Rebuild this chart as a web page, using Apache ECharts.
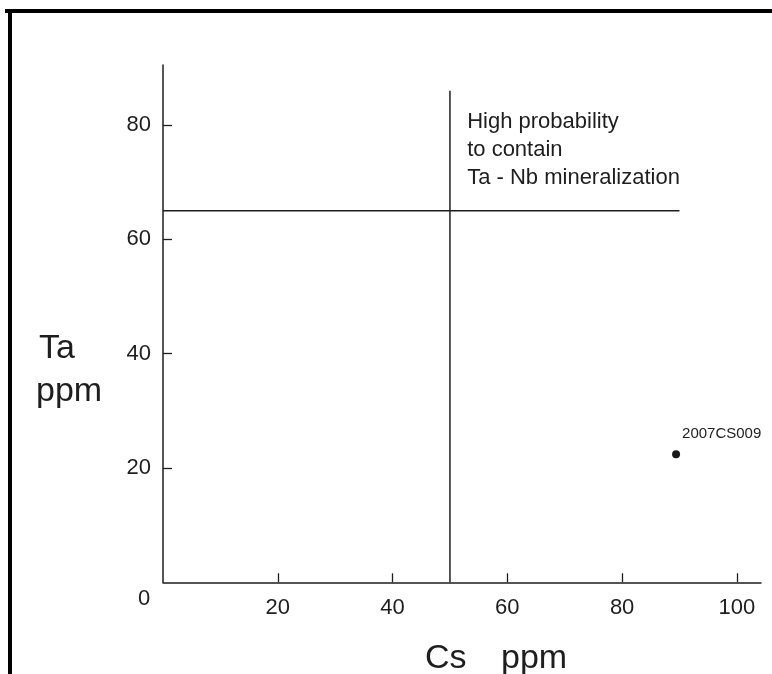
<!DOCTYPE html>
<html>
<head>
<meta charset="utf-8">
<script src="https://cdn.jsdelivr.net/npm/echarts@6/dist/echarts.min.js"></script>
<style>
html, body { margin: 0; padding: 0; background: #fff; }
#main { width: 772px; height: 674px; }
</style>
</head>
<body>
<div id="main"></div>
<script>
// tick values
const xTicks = [20, 40, 60, 80, 100];
const yTicks = [20, 40, 60, 80];
// sample
const samplePoints = [[89.4, 22.4]];
const sampleNames = ['2007CS009'];
// threshold lines (Ta = 65, Cs = 50)
const hLine = [[0, 65], [90, 65]];
const vLine = [[50, 0], [50, 86]];
// note in the upper right field
const noteLines = ['High probability', 'to contain', 'Ta - Nb mineralization'];
const notePos = [53, 82.8];

const FONT = "'Liberation Sans', Arial, sans-serif";
const INK = '#1e1e1e';

const chartDom = document.getElementById('main');
const myChart = echarts.init(chartDom, null, { renderer: 'canvas' });

const axisCommon = {
    type: 'value',
    min: 0,
    splitLine: { show: false },
    axisLine: { show: true, lineStyle: { color: INK, width: 1.5 } },
    axisTick: { show: true, inside: true, length: 9, lineStyle: { color: INK, width: 1.3 } },
    axisLabel: { color: INK, fontSize: 22, fontFamily: FONT, margin: 12 }
};

const option = {
    backgroundColor: '#fff',
    animation: false,
    grid: { left: 163, right: 11, top: 65, bottom: 91.7 },
    xAxis: Object.assign({}, axisCommon, {
        max: 104.2,
        axisTick: Object.assign({}, axisCommon.axisTick, { customValues: xTicks }),
        axisLabel: Object.assign({}, axisCommon.axisLabel, { customValues: xTicks, margin: 15 })
    }),
    yAxis: Object.assign({}, axisCommon, {
        max: 90.5,
        axisTick: Object.assign({}, axisCommon.axisTick, { customValues: yTicks }),
        axisLabel: Object.assign({}, axisCommon.axisLabel, { customValues: yTicks })
    }),
    series: [
        {
            type: 'line',
            data: hLine,
            symbol: 'none',
            lineStyle: { color: INK, width: 1.5 }
        },
        {
            type: 'line',
            data: vLine,
            symbol: 'none',
            lineStyle: { color: INK, width: 1.5 }
        },
        {
            type: 'scatter',
            data: samplePoints.map((p, i) => ({ value: p, name: sampleNames[i] })),
            symbolSize: 8,
            itemStyle: { color: '#1a1a1a', opacity: 1 },
            label: {
                show: true,
                formatter: '{b}',
                position: [10, -16],
                verticalAlign: 'middle',
                color: INK,
                fontSize: 15,
                fontFamily: FONT
            }
        }
    ]
};
myChart.setOption(option);

// texts placed from the axes' own scale
const origin = myChart.convertToPixel({ gridIndex: 0 }, [0, 0]);
const notePx = myChart.convertToPixel({ gridIndex: 0 }, notePos);

myChart.setOption({
    graphic: [
        // frame
        { type: 'rect', shape: { x: 5, y: 9, width: 767, height: 4 }, style: { fill: '#000' } },
        { type: 'rect', shape: { x: 8, y: 9, width: 4, height: 665 }, style: { fill: '#000' } },
        // origin label
        {
            type: 'text', x: origin[0] - 19, y: origin[1] + 17,
            style: { text: '0', fill: INK, font: '22px ' + FONT, align: 'center', verticalAlign: 'middle' }
        },
        // note
        {
            type: 'text', x: notePx[0], y: notePx[1] - 1,
            style: { text: noteLines.join('\n'), fill: INK, font: '22px ' + FONT, lineHeight: 28, align: 'left', verticalAlign: 'top' }
        },
        // axis names
        {
            type: 'text', x: 39, y: 349,
            style: { text: 'Ta', fill: INK, font: '34px ' + FONT, align: 'left', verticalAlign: 'middle' }
        },
        {
            type: 'text', x: 36, y: 392,
            style: { text: 'ppm', fill: INK, font: '34px ' + FONT, align: 'left', verticalAlign: 'middle' }
        },
        {
            type: 'text', x: 425, y: 659,
            style: { text: 'Cs', fill: INK, font: '34px ' + FONT, align: 'left', verticalAlign: 'middle' }
        },
        {
            type: 'text', x: 501, y: 659,
            style: { text: 'ppm', fill: INK, font: '34px ' + FONT, align: 'left', verticalAlign: 'middle' }
        }
    ]
});
</script>
</body>
</html>
